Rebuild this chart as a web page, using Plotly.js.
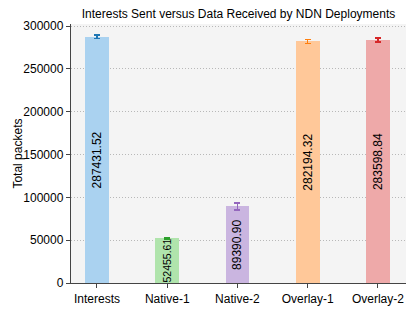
<!DOCTYPE html>
<html>
<head>
<meta charset="utf-8">
<script src="https://cdn.plot.ly/plotly-3.0.1.min.js"></script>
<style>html,body{margin:0;padding:0;background:#fff;}#chart{width:415px;height:311px;}</style>
</head>
<body>
<div id="chart"></div>
<script>
const categories = ["Interests", "Native-1", "Native-2", "Overlay-1", "Overlay-2"];
const values = [287431.52, 52455.61, 89390.90, 282194.32, 283598.84];
const errors = [2000, 800, 4200, 2300, 2300];
const labels = ["287431.52", "52455.61", "89390.90", "282194.32", "283598.84"];
const barColors = ["#aad2f0", "#b0e4ac", "#cab5e0", "#ffc899", "#eea9a9"];
const errColors = ["#1f77b4", "#2ca02c", "#9467bd", "#ff7f0e", "#d62728"];
const labelSizes = [12, 10.5, 12, 12, 12];

const traces = categories.map((c, i) => ({
  type: "bar",
  x: [i],
  y: [values[i]],
  width: 0.34,
  marker: {color: barColors[i], line: {width: 0}},
  error_y: {type: "data", array: [errors[i]], visible: true, color: errColors[i], thickness: 1.5, width: 3},
  text: [labels[i]],
  textposition: "inside",
  insidetextanchor: "middle",
  textangle: -90,
  constraintext: "none",
  textfont: {family: "Liberation Sans, Arial, sans-serif", size: labelSizes[i], color: "#000"},
  cliponaxis: false,
  hoverinfo: "none",
  showlegend: false
}));

const layout = {
  width: 415, height: 311,
  margin: {l: 71, r: 9, t: 24, b: 28, pad: 0},
  paper_bgcolor: "#ffffff",
  plot_bgcolor: "#f4f4f4",
  font: {family: "Liberation Sans, Arial, sans-serif", size: 12, color: "#000"},
  title: {text: "Interests Sent versus Data Received by NDN Deployments", x: 0.5, xref: "paper", xanchor: "center", y: 1, yref: "container", yanchor: "top", pad: {t: 10}, font: {size: 12, color: "#000"}},
  xaxis: {
    range: [-0.37, 4.4],
    tickvals: [0, 1, 2, 3, 4],
    ticktext: categories,
    showgrid: false, zeroline: false,
    showline: true, linecolor: "#444", linewidth: 1.2,
    ticks: "outside", ticklen: 4, tickcolor: "#444",
    tickfont: {size: 12}
  },
  yaxis: {
    range: [0, 302400],
    tickvals: [0, 50000, 100000, 150000, 200000, 250000, 300000],
    ticktext: ["0", "50000", "100000", "150000", "200000", "250000", "300000"],
    showgrid: true, gridcolor: "#b8b8b8", griddash: "1px,2px", gridwidth: 1,
    zeroline: false,
    showline: true, linecolor: "#444", linewidth: 1.2,
    ticks: "outside", ticklen: 4, tickcolor: "#444",
    tickfont: {size: 12}
  },
  annotations: [{
    text: "Total packets", xref: "paper", yref: "paper", x: -0.161, y: 0.5,
    xanchor: "center", yanchor: "middle", textangle: -90, showarrow: false,
    font: {size: 12, color: "#000"}
  }],
  bargap: 0
};

Plotly.newPlot("chart", traces, layout, {displayModeBar: false, staticPlot: true});
</script>
</body>
</html>
